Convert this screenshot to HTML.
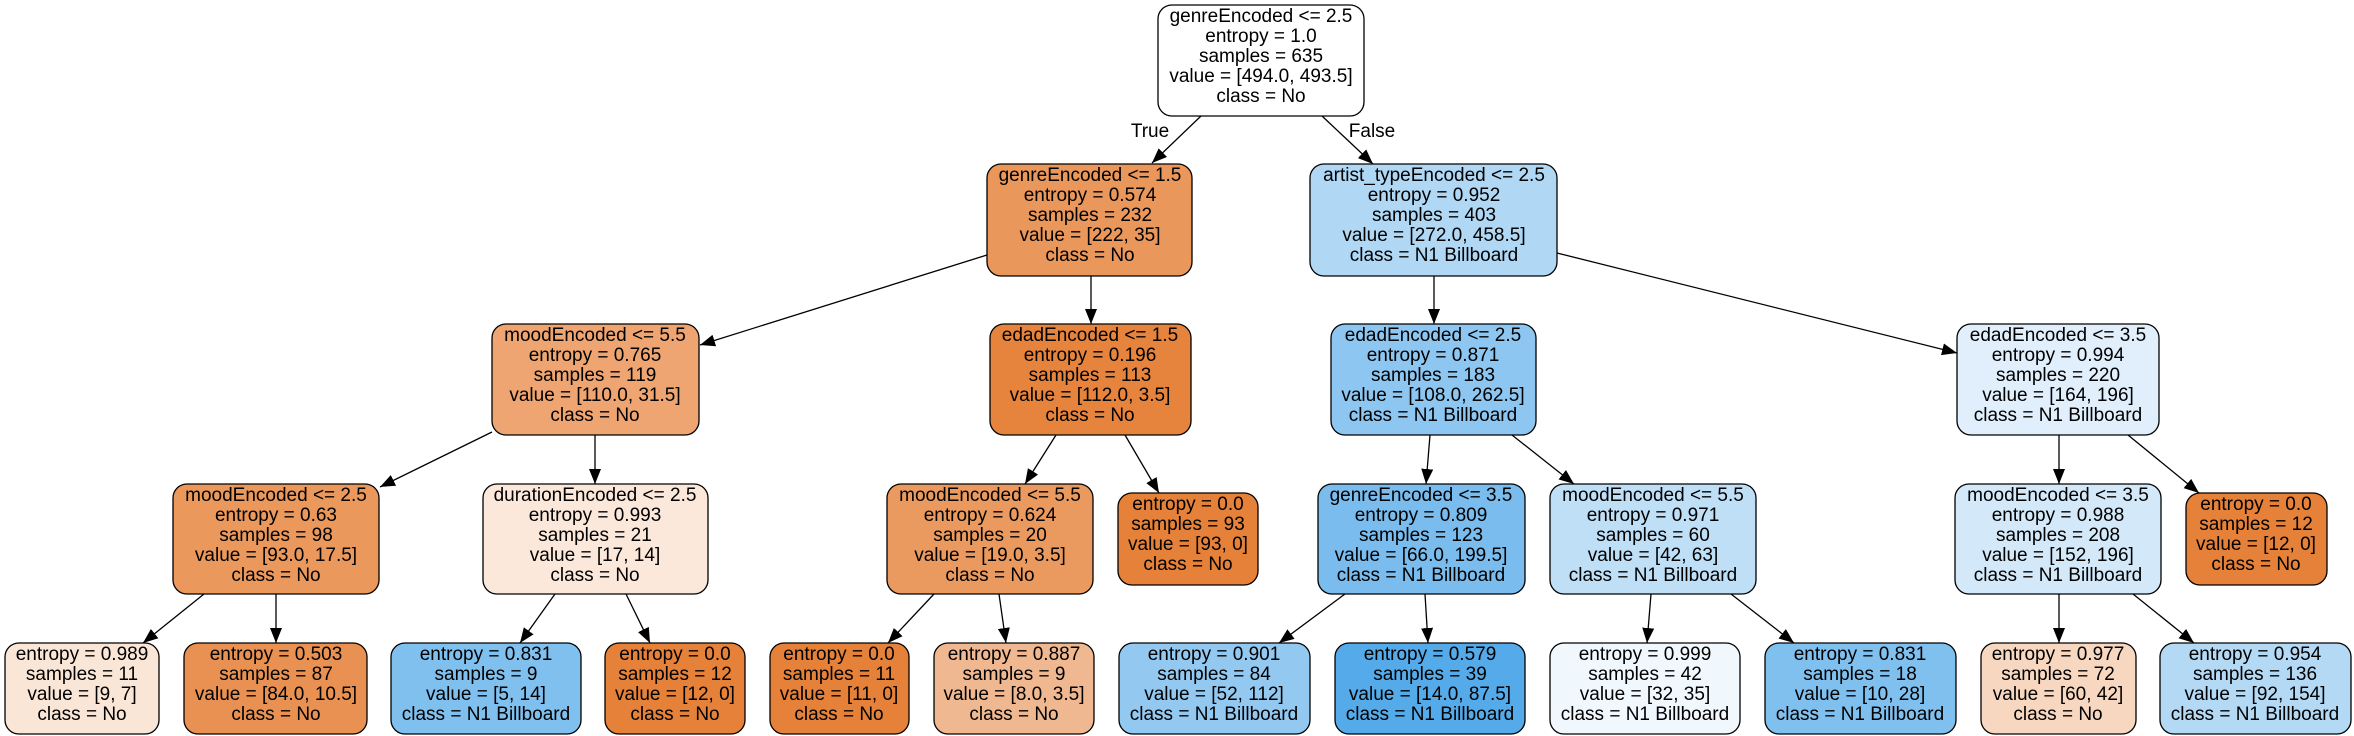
<!DOCTYPE html>
<html><head><meta charset="utf-8"><style>
html,body{margin:0;padding:0;background:#fff;}
svg{display:block;}
text{font-family:"Liberation Sans",Arial,sans-serif;font-size:19px;fill:#000;}
rect{stroke:#000;stroke-width:1.3;}
line{stroke:#000;stroke-width:1.3;}
</style></head><body>
<svg width="2354" height="736" viewBox="0 0 2354 736" xmlns="http://www.w3.org/2000/svg">
<defs>
<marker id="a" markerUnits="userSpaceOnUse" markerWidth="16" markerHeight="12" refX="15" refY="6" orient="auto">
<path d="M0,0 L15,6 L0,12 z" fill="#000"/>
</marker>
</defs>
<g>
<line x1="1201" y1="116" x2="1152" y2="163" marker-end="url(#a)"/>
<line x1="1322" y1="116" x2="1373" y2="164" marker-end="url(#a)"/>
<line x1="987" y1="255" x2="700" y2="345" marker-end="url(#a)"/>
<line x1="1091" y1="276" x2="1091" y2="324" marker-end="url(#a)"/>
<line x1="1434" y1="276" x2="1434" y2="324" marker-end="url(#a)"/>
<line x1="1557" y1="253" x2="1957" y2="353" marker-end="url(#a)"/>
<line x1="492" y1="432" x2="380" y2="487" marker-end="url(#a)"/>
<line x1="595" y1="435" x2="595" y2="484" marker-end="url(#a)"/>
<line x1="1056" y1="435" x2="1025" y2="484" marker-end="url(#a)"/>
<line x1="1125" y1="435" x2="1159" y2="493" marker-end="url(#a)"/>
<line x1="1430" y1="435" x2="1426" y2="484" marker-end="url(#a)"/>
<line x1="1512" y1="435" x2="1574" y2="484" marker-end="url(#a)"/>
<line x1="2059" y1="435" x2="2059" y2="484" marker-end="url(#a)"/>
<line x1="2128" y1="435" x2="2199" y2="493" marker-end="url(#a)"/>
<line x1="204" y1="594" x2="143" y2="643" marker-end="url(#a)"/>
<line x1="276" y1="594" x2="276" y2="643" marker-end="url(#a)"/>
<line x1="555" y1="594" x2="520" y2="643" marker-end="url(#a)"/>
<line x1="626" y1="594" x2="650" y2="643" marker-end="url(#a)"/>
<line x1="934" y1="594" x2="888" y2="643" marker-end="url(#a)"/>
<line x1="999" y1="594" x2="1006" y2="643" marker-end="url(#a)"/>
<line x1="1345" y1="594" x2="1279" y2="643" marker-end="url(#a)"/>
<line x1="1425" y1="594" x2="1428" y2="643" marker-end="url(#a)"/>
<line x1="1651" y1="594" x2="1647" y2="643" marker-end="url(#a)"/>
<line x1="1731" y1="594" x2="1794" y2="643" marker-end="url(#a)"/>
<line x1="2059" y1="594" x2="2059" y2="643" marker-end="url(#a)"/>
<line x1="2133" y1="594" x2="2194" y2="643" marker-end="url(#a)"/>
</g>
<text x="1150" y="137" text-anchor="middle">True</text>
<text x="1372" y="137" text-anchor="middle">False</text>

<!-- nodes -->
<g text-anchor="middle">
<!-- root -->
<rect x="1158" y="5" width="206" height="111" rx="14" fill="#ffffff"/>
<text x="1261" y="22"><tspan x="1261" dy="0">genreEncoded &lt;= 2.5</tspan><tspan x="1261" dy="20">entropy = 1.0</tspan><tspan x="1261" dy="20">samples = 635</tspan><tspan x="1261" dy="20">value = [494.0, 493.5]</tspan><tspan x="1261" dy="20">class = No</tspan></text>

<rect x="987" y="164" width="205" height="112" rx="14" fill="#ea975b"/>
<text x="1090" y="181"><tspan x="1090">genreEncoded &lt;= 1.5</tspan><tspan x="1090" dy="20">entropy = 0.574</tspan><tspan x="1090" dy="20">samples = 232</tspan><tspan x="1090" dy="20">value = [222, 35]</tspan><tspan x="1090" dy="20">class = No</tspan></text>

<rect x="1310" y="164" width="247" height="112" rx="14" fill="#b0d8f5"/>
<text x="1434" y="181"><tspan x="1434">artist_typeEncoded &lt;= 2.5</tspan><tspan x="1434" dy="20">entropy = 0.952</tspan><tspan x="1434" dy="20">samples = 403</tspan><tspan x="1434" dy="20">value = [272.0, 458.5]</tspan><tspan x="1434" dy="20">class = N1 Billboard</tspan></text>

<rect x="492" y="324" width="207" height="111" rx="14" fill="#eea571"/>
<text x="595" y="341"><tspan x="595">moodEncoded &lt;= 5.5</tspan><tspan x="595" dy="20">entropy = 0.765</tspan><tspan x="595" dy="20">samples = 119</tspan><tspan x="595" dy="20">value = [110.0, 31.5]</tspan><tspan x="595" dy="20">class = No</tspan></text>

<rect x="990" y="324" width="201" height="111" rx="14" fill="#e6843e"/>
<text x="1090" y="341"><tspan x="1090">edadEncoded &lt;= 1.5</tspan><tspan x="1090" dy="20">entropy = 0.196</tspan><tspan x="1090" dy="20">samples = 113</tspan><tspan x="1090" dy="20">value = [112.0, 3.5]</tspan><tspan x="1090" dy="20">class = No</tspan></text>

<rect x="1331" y="324" width="205" height="111" rx="14" fill="#8dc6f0"/>
<text x="1433" y="341"><tspan x="1433">edadEncoded &lt;= 2.5</tspan><tspan x="1433" dy="20">entropy = 0.871</tspan><tspan x="1433" dy="20">samples = 183</tspan><tspan x="1433" dy="20">value = [108.0, 262.5]</tspan><tspan x="1433" dy="20">class = N1 Billboard</tspan></text>

<rect x="1957" y="324" width="202" height="111" rx="14" fill="#e0effb"/>
<text x="2058" y="341"><tspan x="2058">edadEncoded &lt;= 3.5</tspan><tspan x="2058" dy="20">entropy = 0.994</tspan><tspan x="2058" dy="20">samples = 220</tspan><tspan x="2058" dy="20">value = [164, 196]</tspan><tspan x="2058" dy="20">class = N1 Billboard</tspan></text>

<!-- level 3 -->
<rect x="173" y="484" width="206" height="110" rx="14" fill="#ea985c"/>
<text x="276" y="501"><tspan x="276">moodEncoded &lt;= 2.5</tspan><tspan x="276" dy="20">entropy = 0.63</tspan><tspan x="276" dy="20">samples = 98</tspan><tspan x="276" dy="20">value = [93.0, 17.5]</tspan><tspan x="276" dy="20">class = No</tspan></text>

<rect x="483" y="484" width="225" height="110" rx="14" fill="#fbe8db"/>
<text x="595" y="501"><tspan x="595">durationEncoded &lt;= 2.5</tspan><tspan x="595" dy="20">entropy = 0.993</tspan><tspan x="595" dy="20">samples = 21</tspan><tspan x="595" dy="20">value = [17, 14]</tspan><tspan x="595" dy="20">class = No</tspan></text>

<rect x="887" y="484" width="206" height="110" rx="14" fill="#eb9a5f"/>
<text x="990" y="501"><tspan x="990">moodEncoded &lt;= 5.5</tspan><tspan x="990" dy="20">entropy = 0.624</tspan><tspan x="990" dy="20">samples = 20</tspan><tspan x="990" dy="20">value = [19.0, 3.5]</tspan><tspan x="990" dy="20">class = No</tspan></text>

<rect x="1118" y="493" width="140" height="92" rx="14" fill="#e58139"/>
<text x="1188" y="510"><tspan x="1188">entropy = 0.0</tspan><tspan x="1188" dy="20">samples = 93</tspan><tspan x="1188" dy="20">value = [93, 0]</tspan><tspan x="1188" dy="20">class = No</tspan></text>

<rect x="1318" y="484" width="207" height="110" rx="14" fill="#79bced"/>
<text x="1421" y="501"><tspan x="1421">genreEncoded &lt;= 3.5</tspan><tspan x="1421" dy="20">entropy = 0.809</tspan><tspan x="1421" dy="20">samples = 123</tspan><tspan x="1421" dy="20">value = [66.0, 199.5]</tspan><tspan x="1421" dy="20">class = N1 Billboard</tspan></text>

<rect x="1550" y="484" width="206" height="110" rx="14" fill="#bfdff7"/>
<text x="1653" y="501"><tspan x="1653">moodEncoded &lt;= 5.5</tspan><tspan x="1653" dy="20">entropy = 0.971</tspan><tspan x="1653" dy="20">samples = 60</tspan><tspan x="1653" dy="20">value = [42, 63]</tspan><tspan x="1653" dy="20">class = N1 Billboard</tspan></text>

<rect x="1955" y="484" width="206" height="110" rx="14" fill="#d3e9f9"/>
<text x="2058" y="501"><tspan x="2058">moodEncoded &lt;= 3.5</tspan><tspan x="2058" dy="20">entropy = 0.988</tspan><tspan x="2058" dy="20">samples = 208</tspan><tspan x="2058" dy="20">value = [152, 196]</tspan><tspan x="2058" dy="20">class = N1 Billboard</tspan></text>

<rect x="2186" y="493" width="141" height="92" rx="14" fill="#e58139"/>
<text x="2256" y="510"><tspan x="2256">entropy = 0.0</tspan><tspan x="2256" dy="20">samples = 12</tspan><tspan x="2256" dy="20">value = [12, 0]</tspan><tspan x="2256" dy="20">class = No</tspan></text>

<!-- leaves -->
<rect x="5" y="643" width="154" height="91" rx="14" fill="#fae6d7"/>
<text x="82" y="660"><tspan x="82">entropy = 0.989</tspan><tspan x="82" dy="20">samples = 11</tspan><tspan x="82" dy="20">value = [9, 7]</tspan><tspan x="82" dy="20">class = No</tspan></text>

<rect x="184" y="643" width="183" height="91" rx="14" fill="#e89152"/>
<text x="276" y="660"><tspan x="276">entropy = 0.503</tspan><tspan x="276" dy="20">samples = 87</tspan><tspan x="276" dy="20">value = [84.0, 10.5]</tspan><tspan x="276" dy="20">class = No</tspan></text>

<rect x="391" y="643" width="190" height="91" rx="14" fill="#80c0ee"/>
<text x="486" y="660"><tspan x="486">entropy = 0.831</tspan><tspan x="486" dy="20">samples = 9</tspan><tspan x="486" dy="20">value = [5, 14]</tspan><tspan x="486" dy="20">class = N1 Billboard</tspan></text>

<rect x="605" y="643" width="140" height="91" rx="14" fill="#e58139"/>
<text x="675" y="660"><tspan x="675">entropy = 0.0</tspan><tspan x="675" dy="20">samples = 12</tspan><tspan x="675" dy="20">value = [12, 0]</tspan><tspan x="675" dy="20">class = No</tspan></text>

<rect x="770" y="643" width="139" height="91" rx="14" fill="#e58139"/>
<text x="839" y="660"><tspan x="839">entropy = 0.0</tspan><tspan x="839" dy="20">samples = 11</tspan><tspan x="839" dy="20">value = [11, 0]</tspan><tspan x="839" dy="20">class = No</tspan></text>

<rect x="934" y="643" width="160" height="91" rx="14" fill="#f0b890"/>
<text x="1014" y="660"><tspan x="1014">entropy = 0.887</tspan><tspan x="1014" dy="20">samples = 9</tspan><tspan x="1014" dy="20">value = [8.0, 3.5]</tspan><tspan x="1014" dy="20">class = No</tspan></text>

<rect x="1119" y="643" width="191" height="91" rx="14" fill="#93c9f1"/>
<text x="1214" y="660"><tspan x="1214">entropy = 0.901</tspan><tspan x="1214" dy="20">samples = 84</tspan><tspan x="1214" dy="20">value = [52, 112]</tspan><tspan x="1214" dy="20">class = N1 Billboard</tspan></text>

<rect x="1335" y="643" width="190" height="91" rx="14" fill="#55abe9"/>
<text x="1430" y="660"><tspan x="1430">entropy = 0.579</tspan><tspan x="1430" dy="20">samples = 39</tspan><tspan x="1430" dy="20">value = [14.0, 87.5]</tspan><tspan x="1430" dy="20">class = N1 Billboard</tspan></text>

<rect x="1550" y="643" width="190" height="91" rx="14" fill="#f0f7fd"/>
<text x="1645" y="660"><tspan x="1645">entropy = 0.999</tspan><tspan x="1645" dy="20">samples = 42</tspan><tspan x="1645" dy="20">value = [32, 35]</tspan><tspan x="1645" dy="20">class = N1 Billboard</tspan></text>

<rect x="1765" y="643" width="191" height="91" rx="14" fill="#80c0ee"/>
<text x="1860" y="660"><tspan x="1860">entropy = 0.831</tspan><tspan x="1860" dy="20">samples = 18</tspan><tspan x="1860" dy="20">value = [10, 28]</tspan><tspan x="1860" dy="20">class = N1 Billboard</tspan></text>

<rect x="1981" y="643" width="155" height="91" rx="14" fill="#f7d7c0"/>
<text x="2058" y="660"><tspan x="2058">entropy = 0.977</tspan><tspan x="2058" dy="20">samples = 72</tspan><tspan x="2058" dy="20">value = [60, 42]</tspan><tspan x="2058" dy="20">class = No</tspan></text>

<rect x="2160" y="643" width="191" height="91" rx="14" fill="#b3d9f5"/>
<text x="2255" y="660"><tspan x="2255">entropy = 0.954</tspan><tspan x="2255" dy="20">samples = 136</tspan><tspan x="2255" dy="20">value = [92, 154]</tspan><tspan x="2255" dy="20">class = N1 Billboard</tspan></text>
</g>
</svg>
</body></html>
